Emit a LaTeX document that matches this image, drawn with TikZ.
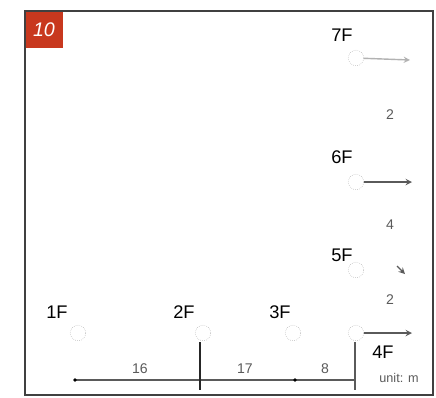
\documentclass[tikz,border=0pt]{standalone}
\usepackage{fontspec}
\setmainfont{Liberation Sans}
\definecolor{rojo}{RGB}{200,56,30}
\definecolor{gris}{RGB}{90,90,90}
\tikzset{
  piso/.style={font=\fontsize{13}{13}\selectfont},
  punto/.style={circle,draw=gray!60,densely dotted,minimum size=11pt,inner sep=0pt},
  medida/.style={font=\fontsize{10}{10}\selectfont,text=gris},
  linea/.style={draw=gris,line width=1.2pt}
}
\begin{document}
\begin{tikzpicture}[x=0.025cm,y=-0.025cm]
			\useasboundingbox (0,0) rectangle (436,397);
			%Marco y numero
			\draw[line width=0.9pt, color=black!75] (25,11) rectangle (433,395);
			\fill[color=rojo] (25.5,11.5) rectangle (63,48);
			\node[text=white, font=\fontsize{14}{14}\selectfont\itshape] (num) at (44,30) {10};
			%Pisos abajo
			\node[piso] (p1) at (57,312) {1F};
			\node[piso] (p2) at (184,312) {2F};
			\node[piso] (p3) at (280,312) {3F};
			\node[piso] (p4) at (383,352) {4F};
			%Pisos derecha
			\node[piso] (p5) at (342,255) {5F};
			\node[piso] (p6) at (342,157) {6F};
			\node[piso] (p7) at (342,35) {7F};
			%Puntos
			\node[punto] (c1) at (78,333) {};
			\node[punto] (c2) at (203,333) {};
			\node[punto] (c3) at (293,333) {};
			\node[punto] (c4) at (356,333) {};
			\node[punto] (c5) at (356,270) {};
			\node[punto] (c6) at (356,182) {};
			\node[punto] (c7) at (356,58) {};
			%Flechas
			\coordinate (f7) at (410,60);
			\coordinate (f6) at (412,182);
			\coordinate (f4) at (412,333);
			\coordinate (f5a) at (397,266);
			\coordinate (f5b) at (405,274);
			\draw[-stealth, color=gray!60, line width=1pt] (c7) -- (f7);
			\draw[-stealth, color=gris, line width=1pt] (c6) -- (f6);
			\draw[-stealth, color=gris, line width=1pt] (c4) -- (f4);
			\draw[-stealth, color=gris, line width=1pt] (f5a) -- (f5b);
			\node[medida] (n76) at (390,115) {2};
			\node[medida] (n65) at (390,225) {4};
			\node[medida] (n54) at (390,300) {2};
			%Cotas abajo
			\coordinate (a) at (75,380);
			\coordinate (b) at (200,380);
			\coordinate (c) at (295,380);
			\coordinate (d) at (355,380);
			\coordinate (b1) at (200,342);
			\coordinate (b2) at (200,390);
			\coordinate (d1) at (355,342);
			\coordinate (d2) at (355,390);
			\draw[linea] (a) -- (b) -- (c) -- (d);
			\draw[line width=1.5pt, color=black!85] (b1) -- (b2);
			\draw[line width=1.3pt, color=gris] (d1) -- (d2);
			\fill[color=black] (a) circle (1.8) (c) circle (1.8);
			\node[medida] (m1) at (140,369) {16};
			\node[medida] (m2) at (245,369) {17};
			\node[medida] (m3) at (325,369) {8};
			\node[medida, font=\fontsize{9}{9}\selectfont] (u) at (399,378) {unit: m};
		\end{tikzpicture}
\end{document}
